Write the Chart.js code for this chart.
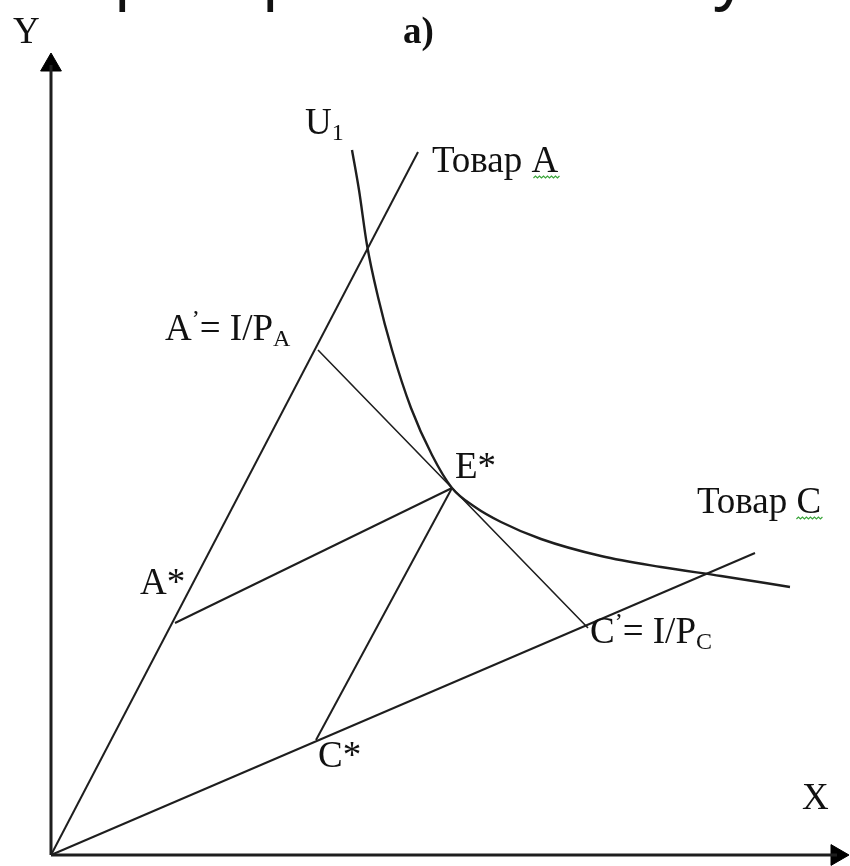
<!DOCTYPE html>
<html><head><meta charset="utf-8">
<script src="https://cdn.jsdelivr.net/npm/chart.js@4/dist/chart.umd.min.js"></script>
<style>html,body{margin:0;padding:0;background:#fff}#wrap{width:850px;height:866px;position:relative}</style>
</head><body><div id="wrap"><canvas id="c"></canvas></div>
<script>
// ---- data (diagram units, origin at the axes' corner) ----
const axisY = [[0, 0], [0, 790]];
const axisX = [[0, 0], [786, 0]];
const rayA = [[0, 0], [367, 703]];          // Товар A
const rayC = [[0, 0], [704, 302]];          // Товар C
const pointA1 = [267, 505];                 // A' = I/PA
const pointE = [401, 367];                  // E*
const pointC1 = [537, 227];                 // C' = I/PC
const pointAstar = [124, 232];              // A*
const pointCstar = [265, 115];              // C*
const u1X = [301, 308, 316, 327, 341, 360, 381, 401, 424, 450, 490, 550, 610, 670, 739];
const u1Y = [705, 665, 610, 558, 505, 447, 400, 367, 348, 333, 316, 299, 288, 279, 268];
const titleGlyphs = ['р', 'р', 'у'];
const labelTexts = {
  y: 'Y', a: 'a)', u: ['U', '1'], goodA: 'Товар A', a1: ['A', '’', '= I/P', 'A'],
  e: 'E*', goodC: 'Товар C', astar: 'A*', c1: ['C', '’', '= I/P', 'C'], cstar: 'C*', x: 'X'
};

const toPts = arr => arr.map(p => ({x: p[0], y: p[1]}));
const u1 = u1X.map((x, i) => ({x, y: u1Y[i]}));
const INK = '#1e1e1e';

const lineDs = (data, w, extra) => Object.assign({
  data: toPts(data), showLine: true, borderColor: INK, borderWidth: w,
  pointRadius: 0, pointHoverRadius: 0, fill: false, clip: false
}, extra || {});

const SERIF = '"Liberation Serif", "Times New Roman", serif';
const F = 37, FS = 24;

const labels = [
  {at: [-38, 812], parts: [[labelTexts.y, 'n']]},
  {at: [352, 812], parts: [[labelTexts.a, 'b']]},
  {at: [254, 721], parts: [[labelTexts.u[0], 'n'], [labelTexts.u[1], 'sub']]},
  {at: [381, 683], parts: [[labelTexts.goodA, 'n']], wavy: 1},
  {at: [114, 515], parts: [[labelTexts.a1[0], 'n'], [labelTexts.a1[1], 'sup'], [labelTexts.a1[2], 'n'], [labelTexts.a1[3], 'sub']]},
  {at: [404, 377], parts: [[labelTexts.e, 'n']]},
  {at: [646, 342], parts: [[labelTexts.goodC, 'n']], wavy: 1},
  {at: [89, 261], parts: [[labelTexts.astar, 'n']]},
  {at: [539, 212], parts: [[labelTexts.c1[0], 'n'], [labelTexts.c1[1], 'sup'], [labelTexts.c1[2], 'n'], [labelTexts.c1[3], 'sub']]},
  {at: [267, 88], parts: [[labelTexts.cstar, 'n']]},
  {at: [751, 46], parts: [[labelTexts.x, 'n']]}
];

const labelPlugin = {
  id: 'labels',
  afterDatasetsDraw(chart) {
    const ctx = chart.ctx, xs = chart.scales.x, ys = chart.scales.y;
    ctx.save();
    ctx.textBaseline = 'alphabetic';
    ctx.fillStyle = '#111';
    // cropped title line above the figure (only descenders remain visible)
    ctx.font = '64px "Noto Sans", sans-serif';
    const gx = [114, 262, 714];
    titleGlyphs.forEach((g, i) => ctx.fillText(g, gx[i], -3));
    labels.forEach(l => {
      let px = xs.getPixelForValue(l.at[0]);
      const py = ys.getPixelForValue(l.at[1]);
      let lastEnd = px;
      l.parts.forEach(([t, s]) => {
        let font = F + 'px ' + SERIF, dy = 0;
        if (s === 'b') font = 'bold ' + F + 'px ' + SERIF;
        if (s === 'sub') { font = FS + 'px ' + SERIF; dy = 6; }
        if (s === 'sup') { font = FS + 'px ' + SERIF; dy = -14; }
        ctx.font = font;
        ctx.fillText(t, px, py + dy);
        const w = ctx.measureText(t).width;
        lastEnd = px + w;
        px += w;
      });
      if (l.wavy) {
        ctx.font = F + 'px ' + SERIF;
        const w = ctx.measureText('A').width;
        const x0 = lastEnd - w + 2, x1 = lastEnd + 2, y0 = py + 6;
        ctx.strokeStyle = '#3aa53a';
        ctx.lineWidth = 1.2;
        ctx.beginPath();
        let up = true;
        ctx.moveTo(x0, y0);
        for (let x = x0 + 2; x <= x1; x += 2) { ctx.lineTo(x, up ? y0 - 2 : y0); up = !up; }
        ctx.stroke();
      }
    });
    ctx.restore();
  }
};

new Chart(document.getElementById('c'), {
  type: 'scatter',
  data: {
    datasets: [
      lineDs(axisY, 3),
      lineDs(axisX, 3),
      lineDs([axisY[1]], 0, {pointRadius: 12, pointStyle: 'triangle', rotation: 0, backgroundColor: '#000', borderColor: '#000', borderWidth: 1, showLine: false}),
      lineDs([axisX[1]], 0, {pointRadius: 12, pointStyle: 'triangle', rotation: 90, backgroundColor: '#000', borderColor: '#000', borderWidth: 1, showLine: false}),
      lineDs(rayA, 2),
      lineDs(rayC, 2),
      lineDs([pointA1, pointE, pointC1], 1.6),
      lineDs([pointAstar, pointE], 2),
      lineDs([pointCstar, pointE], 2),
      {data: u1, showLine: true, borderColor: INK, borderWidth: 2.4, pointRadius: 0, pointHoverRadius: 0,
       cubicInterpolationMode: 'monotone', fill: false, clip: false}
    ]
  },
  options: {
    responsive: true, maintainAspectRatio: false, animation: false,
    layout: {padding: 0, autoPadding: false},
    plugins: {legend: {display: false}, tooltip: {enabled: false}},
    events: [],
    scales: {
      x: {type: 'linear', min: -51, max: 799, display: false},
      y: {type: 'linear', min: -11, max: 855, display: false}
    }
  },
  plugins: [labelPlugin]
});
</script></body></html>
